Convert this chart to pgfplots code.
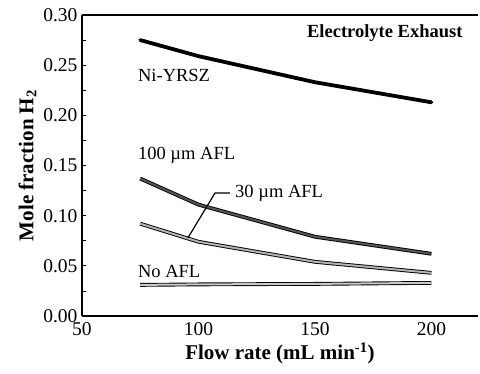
\documentclass[border=0pt]{standalone}
\usepackage{pgfplots}
\pgfplotsset{compat=1.18}
\usepackage{fontspec}
\setmainfont{Liberation Serif}
\begin{document}
\begin{tikzpicture}
\useasboundingbox (-82pt,-57pt) rectangle (398pt,316pt);
\begin{axis}[
  at={(0,0)}, anchor=south west,
  scale only axis, width=396pt, height=301pt,
  xmin=50, xmax=220, ymin=0, ymax=0.30,
  axis lines=left, axis line style={line width=1.2pt, -},
  xtick={50,100,150,200}, ytick={0,0.05,...,0.301},
  minor ytick={0.025,0.075,...,0.3},
  tick align=inside, major tick length=4pt, minor tick length=4pt,
  tick style={line width=0.8pt, black},
  xtick style={draw=none},
  extra x ticks={100,150,200}, extra x tick labels={},
  extra x tick style={major tick length=4pt, tick style={draw=black,line width=0.8pt}},
  yticklabel style={xshift=-1pt, /pgf/number format/.cd, fixed, fixed zerofill, precision=2},
  /pgf/number format/assume math mode=true,
  ticklabel style={font=\fontsize{19.5}{22}\selectfont},
  xticklabel style={yshift=-3pt},
  xlabel={\textbf{Flow rate (mL min\textsuperscript{-1})}},
  ylabel={\textbf{Mole fraction H\textsubscript{2}}},
  label style={font=\fontsize{21}{24}\selectfont},
  clip=false,
]
\draw[line width=1.2pt] (rel axis cs:0,1) -- (rel axis cs:1,1);
\addplot[black, line width=3.8pt, line join=round, line cap=round] coordinates {(75,0.275) (100,0.259) (150,0.233) (200,0.213)};
\addplot[black, line width=0.9pt, double={rgb,255:red,85;green,85;blue,85}, double distance=2pt, line join=round] coordinates {(75,0.137) (100,0.111) (150,0.079) (200,0.062)};
\addplot[black, line width=0.9pt, double={rgb,255:red,180;green,180;blue,180}, double distance=2pt, line join=round] coordinates {(75,0.092) (100,0.074) (150,0.054) (200,0.043)};
\addplot[black, line width=0.9pt, double={rgb,255:red,200;green,200;blue,200}, double distance=2pt, line join=round] coordinates {(75,0.031) (100,0.0315) (150,0.032) (200,0.033)};
\draw[line width=1.2pt] (axis cs:95.5,0.078) -- (axis cs:107.1,0.1226) -- (axis cs:113.5,0.1226);
\node[anchor=center, font=\fontsize{18.5}{21}\selectfont\bfseries] at (axis cs:180,0.282) {Electrolyte Exhaust};
\node[anchor=west, inner sep=0pt, font=\fontsize{18.5}{21}\selectfont] at (axis cs:74,0.240) {Ni-YRSZ};
\node[anchor=west, inner sep=0pt, font=\fontsize{18.5}{21}\selectfont] at (axis cs:74,0.160) {100 µm AFL};
\node[anchor=west, inner sep=0pt, font=\fontsize{18.5}{21}\selectfont] at (axis cs:115.7,0.1226) {30 µm AFL};
\node[anchor=west, inner sep=0pt, font=\fontsize{18.5}{21}\selectfont] at (axis cs:74,0.044) {No AFL};
\end{axis}
\end{tikzpicture}
\end{document}
